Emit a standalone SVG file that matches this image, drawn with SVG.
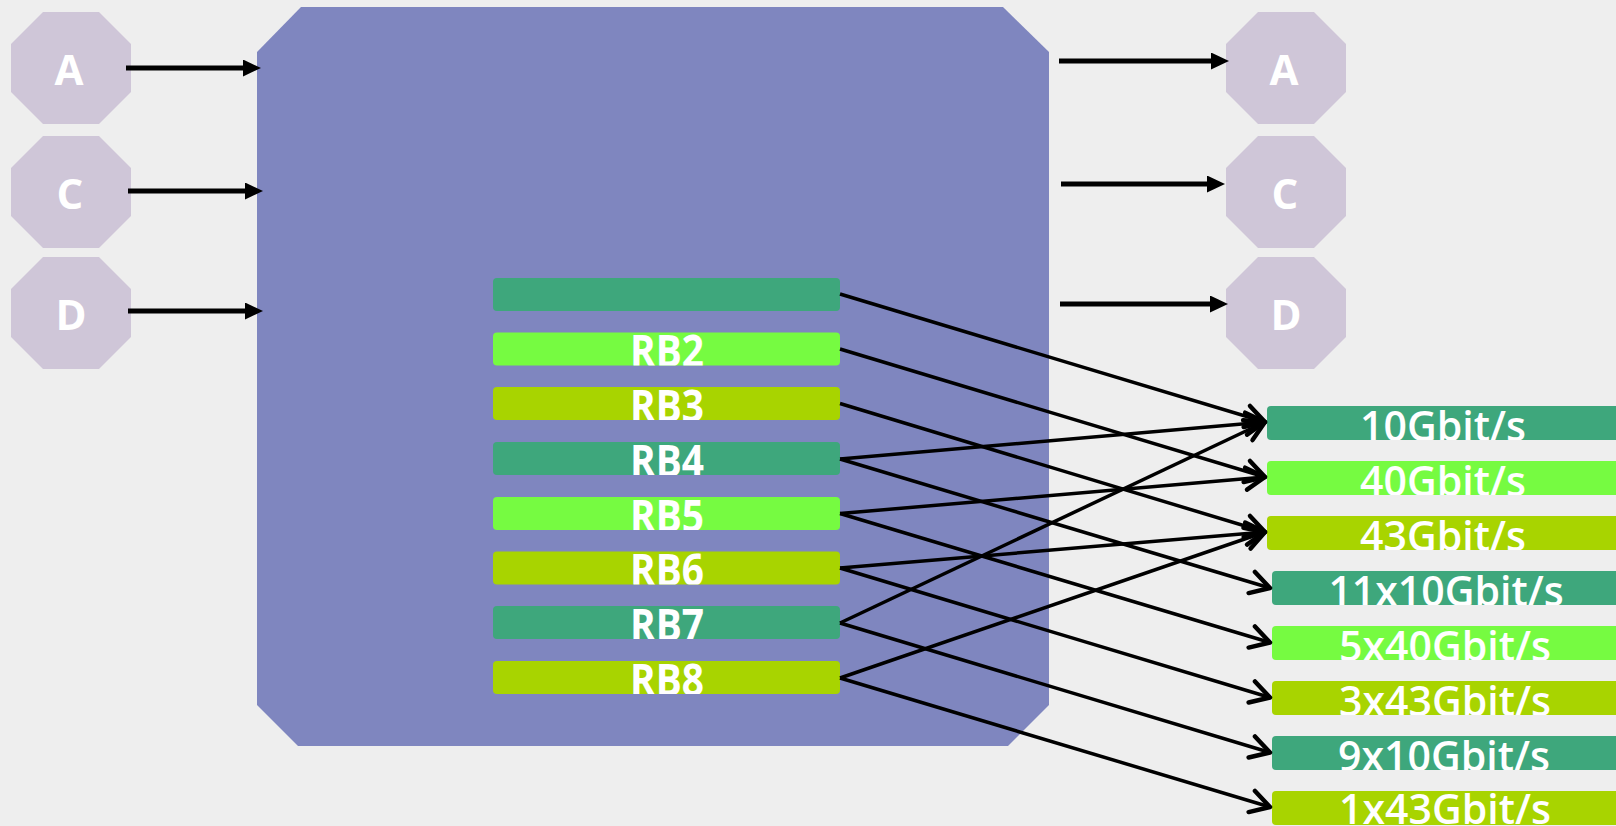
<svg xmlns="http://www.w3.org/2000/svg" width="1616" height="826" viewBox="0 0 1616 826">
  <style>
    .oct { fill: #cfc6d8; }
    .octlbl { font-family: "Open Sans", "DejaVu Sans", sans-serif; font-weight: 700; font-size: 42px; fill: #ffffff; text-anchor: middle; }
    .rb { font-family: "Open Sans", "DejaVu Sans", sans-serif; font-weight: 700; font-size: 44px; fill: #ffffff; text-anchor: middle; }
    .rate { font-family: "Open Sans", "DejaVu Sans", sans-serif; font-weight: 600; font-size: 41px; fill: #ffffff; text-anchor: middle; }
    .dk { fill: #3ea77c; }
    .lt { fill: #76fb41; }
    .ol { fill: #a8d400; }
    .feed { stroke: #000; stroke-width: 5; fill: none; marker-end: url(#solid); }
    .map { stroke: #000; stroke-width: 3.5; fill: none; marker-end: url(#open); }
  </style>
  <defs>
    <marker id="solid" markerUnits="userSpaceOnUse" markerWidth="20" markerHeight="18" refX="2" refY="8.5" orient="auto">
      <path d="M0,0 L18,8.5 L0,17 z" fill="#000"/>
    </marker>
    <marker id="open" markerUnits="userSpaceOnUse" markerWidth="30" markerHeight="30" refX="21" refY="13" orient="auto" overflow="visible">
      <path d="M2,2 L21,13 L2,24" fill="none" stroke="#000" stroke-width="4.5" stroke-linecap="round" stroke-linejoin="round"/>
    </marker>
    <polygon id="octShape" points="32,0 88,0 120,32 120,80 88,112 32,112 0,80 0,32"/>
    <!-- clip regions for the bar labels -->
    <clipPath id="cRB2"><rect x="493" y="332.5" width="347" height="33" rx="4"/></clipPath>
    <clipPath id="cRB3"><rect x="493" y="387" width="347" height="33" rx="4"/></clipPath>
    <clipPath id="cRB4"><rect x="493" y="442" width="347" height="33" rx="4"/></clipPath>
    <clipPath id="cRB5"><rect x="493" y="497" width="347" height="33" rx="4"/></clipPath>
    <clipPath id="cRB6"><rect x="493" y="551.5" width="347" height="33" rx="4"/></clipPath>
    <clipPath id="cRB7"><rect x="493" y="606" width="347" height="33" rx="4"/></clipPath>
    <clipPath id="cRB8"><rect x="493" y="661" width="347" height="33" rx="4"/></clipPath>
    <clipPath id="cR1"><rect x="1267" y="406" width="360" height="34" rx="4"/></clipPath>
    <clipPath id="cR2"><rect x="1267" y="461" width="360" height="34" rx="4"/></clipPath>
    <clipPath id="cR3"><rect x="1267" y="516" width="360" height="34" rx="4"/></clipPath>
    <clipPath id="cR4"><rect x="1272" y="571" width="360" height="34" rx="4"/></clipPath>
    <clipPath id="cR5"><rect x="1272" y="626" width="360" height="34" rx="4"/></clipPath>
    <clipPath id="cR6"><rect x="1272" y="681" width="360" height="34" rx="4"/></clipPath>
    <clipPath id="cR7"><rect x="1272" y="736" width="360" height="34" rx="4"/></clipPath>
    <clipPath id="cR8"><rect x="1272" y="791" width="360" height="33" rx="4"/></clipPath>
  </defs>

  <rect x="0" y="0" width="1616" height="826" fill="#eeeeee"/>

  <!-- central switching block -->
  <g id="block">
    <polygon points="257,52 301,7 1003,7 1049,52 1049,705 1008,746 298,746 257,705" fill="#7f86bf"/>
  </g>

  <!-- input clients -->
  <g id="in-A"><use href="#octShape" class="oct" x="11" y="12"/><text class="octlbl" x="69" y="85">A</text></g>
  <g id="in-C"><use href="#octShape" class="oct" x="11" y="136"/><text class="octlbl" x="70" y="209">C</text></g>
  <g id="in-D"><use href="#octShape" class="oct" x="11" y="257"/><text class="octlbl" x="71" y="330">D</text></g>

  <!-- output clients -->
  <g id="out-A"><use href="#octShape" class="oct" x="1226" y="12"/><text class="octlbl" x="1284" y="85">A</text></g>
  <g id="out-C"><use href="#octShape" class="oct" x="1226" y="136"/><text class="octlbl" x="1285" y="209">C</text></g>
  <g id="out-D"><use href="#octShape" class="oct" x="1226" y="257"/><text class="octlbl" x="1286" y="330">D</text></g>

  <!-- resource blocks -->
  <g id="RB1"><rect class="dk" x="493" y="278" width="347" height="33" rx="4"/></g>
  <g id="RB2"><rect class="lt" x="493" y="332.5" width="347" height="33" rx="4"/><text class="rb" x="667" y="367" textLength="74" lengthAdjust="spacingAndGlyphs" clip-path="url(#cRB2)">RB2</text></g>
  <g id="RB3"><rect class="ol" x="493" y="387" width="347" height="33" rx="4"/><text class="rb" x="667" y="421.5" textLength="74" lengthAdjust="spacingAndGlyphs" clip-path="url(#cRB3)">RB3</text></g>
  <g id="RB4"><rect class="dk" x="493" y="442" width="347" height="33" rx="4"/><text class="rb" x="667" y="476.5" textLength="74" lengthAdjust="spacingAndGlyphs" clip-path="url(#cRB4)">RB4</text></g>
  <g id="RB5"><rect class="lt" x="493" y="497" width="347" height="33" rx="4"/><text class="rb" x="667" y="531.5" textLength="74" lengthAdjust="spacingAndGlyphs" clip-path="url(#cRB5)">RB5</text></g>
  <g id="RB6"><rect class="ol" x="493" y="551.5" width="347" height="33" rx="4"/><text class="rb" x="667" y="586" textLength="74" lengthAdjust="spacingAndGlyphs" clip-path="url(#cRB6)">RB6</text></g>
  <g id="RB7"><rect class="dk" x="493" y="606" width="347" height="33" rx="4"/><text class="rb" x="667" y="640.5" textLength="74" lengthAdjust="spacingAndGlyphs" clip-path="url(#cRB7)">RB7</text></g>
  <g id="RB8"><rect class="ol" x="493" y="661" width="347" height="33" rx="4"/><text class="rb" x="667" y="695.5" textLength="74" lengthAdjust="spacingAndGlyphs" clip-path="url(#cRB8)">RB8</text></g>

  <!-- line rates -->
  <g id="rate-10"><rect class="dk" x="1267" y="406" width="360" height="34" rx="4"/><text class="rate" x="1443" y="440.5" clip-path="url(#cR1)">10Gbit/s</text></g>
  <g id="rate-40"><rect class="lt" x="1267" y="461" width="360" height="34" rx="4"/><text class="rate" x="1443" y="495.5" clip-path="url(#cR2)">40Gbit/s</text></g>
  <g id="rate-43"><rect class="ol" x="1267" y="516" width="360" height="34" rx="4"/><text class="rate" x="1443" y="550.5" clip-path="url(#cR3)">43Gbit/s</text></g>
  <g id="rate-11x10"><rect class="dk" x="1272" y="571" width="360" height="34" rx="4"/><text class="rate" x="1446" y="605.5" clip-path="url(#cR4)">11x10Gbit/s</text></g>
  <g id="rate-5x40"><rect class="lt" x="1272" y="626" width="360" height="34" rx="4"/><text class="rate" x="1445" y="660.5" clip-path="url(#cR5)">5x40Gbit/s</text></g>
  <g id="rate-3x43"><rect class="ol" x="1272" y="681" width="360" height="34" rx="4"/><text class="rate" x="1445" y="715.5" clip-path="url(#cR6)">3x43Gbit/s</text></g>
  <g id="rate-9x10"><rect class="dk" x="1272" y="736" width="360" height="34" rx="4"/><text class="rate" x="1444" y="770.5" clip-path="url(#cR7)">9x10Gbit/s</text></g>
  <g id="rate-1x43"><rect class="ol" x="1272" y="791" width="360" height="34" rx="4"/><text class="rate" x="1445" y="823.5" clip-path="url(#cR8)">1x43Gbit/s</text></g>

  <!-- connectors -->
  <g id="connectors">
    <path class="feed" d="M126,68 H245"/>
    <path class="feed" d="M128,191 H247"/>
    <path class="feed" d="M128,311 H247"/>
    <path class="feed" d="M1059,61 H1213"/>
    <path class="feed" d="M1061,184 H1209"/>
    <path class="feed" d="M1060,304 H1212"/>

    <path class="map" d="M840,294 L1265,422"/>
    <path class="map" d="M840,349 L1265,477"/>
    <path class="map" d="M840,403.5 L1265,532"/>
    <path class="map" d="M840,459 L1265,422"/>
    <path class="map" d="M840,459 L1270,588"/>
    <path class="map" d="M840,513.5 L1265,477"/>
    <path class="map" d="M840,513.5 L1270,642.5"/>
    <path class="map" d="M840,568 L1265,532"/>
    <path class="map" d="M840,568 L1270,697.5"/>
    <path class="map" d="M840,623 L1265,422"/>
    <path class="map" d="M840,623 L1270,752.5"/>
    <path class="map" d="M840,678 L1265,532"/>
    <path class="map" d="M840,678 L1270,807"/>
  </g>
</svg>
